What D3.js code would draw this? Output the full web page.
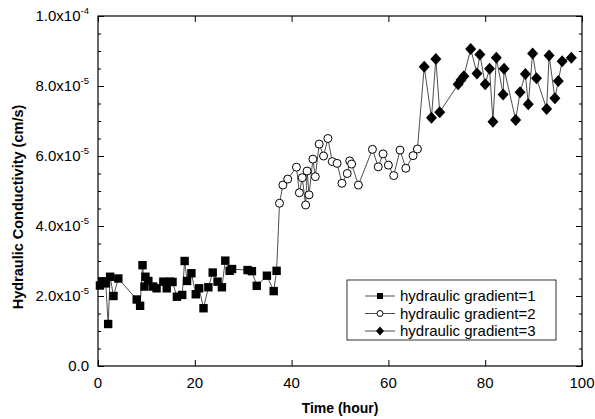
<!DOCTYPE html>
<html>
<head>
<meta charset="utf-8">
<script src="https://cdn.jsdelivr.net/npm/d3@7"></script>
<style>
  body { margin: 0; background: #fff; }
  text { font-family: "Liberation Sans", Arial, sans-serif; fill: #000; }
</style>
</head>
<body>
<svg id="chart" width="595" height="419"></svg>
<script>
// values of K are in units of 1e-5 cm/s
var t1 = [0.4, 0.9, 1.6, 2.1, 2.5, 3.2, 4.2, 8.0, 8.7, 9.2, 9.6, 9.8, 10.4, 11.4, 12.1, 13.5, 14.2, 14.9, 15.4, 16.3, 17.4, 17.9, 18.4, 19.3, 20.2, 20.9, 21.8, 22.8, 23.7, 24.7, 25.6, 26.3, 27.2, 27.7, 30.9, 31.8, 32.8, 34.9, 36.3, 36.9];
var k1 = [2.3, 2.42, 2.36, 1.2, 2.55, 2.0, 2.5, 1.9, 1.72, 2.88, 2.27, 2.55, 2.43, 2.27, 2.22, 2.41, 2.22, 2.41, 2.4, 1.98, 2.03, 3.0, 2.43, 2.65, 2.05, 2.22, 1.65, 2.25, 2.67, 2.41, 2.25, 3.01, 2.72, 2.77, 2.74, 2.71, 2.29, 2.58, 2.14, 2.72];

var t2 = [37.5, 38.2, 39.2, 41.0, 41.6, 42.2, 42.9, 43.2, 43.6, 44.4, 44.9, 45.7, 46.6, 47.5, 48.4, 49.4, 50.4, 51.5, 52.0, 52.4, 53.8, 56.7, 57.9, 58.9, 60.0, 61.1, 62.4, 63.6, 65.1, 66.0];
var k2 = [4.65, 5.17, 5.34, 5.68, 4.95, 5.38, 4.6, 5.57, 4.89, 5.91, 5.41, 6.34, 6.0, 6.5, 5.84, 5.79, 5.22, 5.5, 5.86, 5.77, 5.17, 6.19, 5.69, 6.06, 5.74, 5.44, 6.17, 5.65, 6.01, 6.2];

var t3 = [67.4, 68.9, 69.8, 70.6, 74.4, 75.0, 75.6, 77.0, 78.3, 78.9, 80.0, 80.9, 81.6, 82.3, 83.7, 83.9, 86.3, 87.2, 88.3, 88.9, 89.8, 90.6, 92.7, 93.2, 94.4, 95.1, 95.9, 97.8];
var k3 = [8.55, 7.09, 8.77, 7.25, 8.05, 8.17, 8.28, 9.06, 8.36, 8.9, 8.05, 8.49, 6.98, 8.81, 7.76, 8.49, 7.03, 7.82, 8.34, 7.48, 8.93, 8.22, 7.34, 8.87, 7.65, 8.14, 8.71, 8.81];

var seriesNames = ["hydraulic gradient=1", "hydraulic gradient=2", "hydraulic gradient=3"];
var xTicks = [0, 20, 40, 60, 80, 100];
var yTicks = [0, 2, 4, 6, 8, 10];
var yTickMain = ["0.0", "2.0x10", "4.0x10", "6.0x10", "8.0x10", "1.0x10"];
var yTickExp = ["", "-5", "-5", "-5", "-5", "-4"];

var svg = d3.select("#chart");
// note: "top" is reserved on window, so use plot* names
var plotL = 98, plotR = 582, plotT = 16, plotB = 366;

var x = d3.scaleLinear().domain([0, 100]).range([plotL, plotR]);
var y = d3.scaleLinear().domain([0, 10]).range([plotB, plotT]);

// minor ticks on y (inward)
var yMinor = d3.range(0, 10.01, 0.5).filter(function(v){ return yTicks.indexOf(v) < 0; });

var axes = svg.append("g");
axes.append("g").attr("transform", "translate(" + plotL + ",0)")
  .call(d3.axisRight(y).tickValues(yMinor).tickSize(3).tickFormat(""));
axes.append("g").attr("transform", "translate(" + plotR + ",0)")
  .call(d3.axisLeft(y).tickValues(yMinor).tickSize(3).tickFormat(""));
axes.append("g").attr("transform", "translate(" + plotL + ",0)")
  .call(d3.axisRight(y).tickValues(yTicks).tickSize(6).tickFormat(""));
axes.append("g").attr("transform", "translate(" + plotR + ",0)")
  .call(d3.axisLeft(y).tickValues(yTicks).tickSize(6).tickFormat(""));
axes.append("g").attr("transform", "translate(0," + plotB + ")")
  .call(d3.axisTop(x).tickValues(xTicks).tickSize(6).tickFormat(""));
axes.append("g").attr("transform", "translate(0," + plotT + ")")
  .call(d3.axisBottom(x).tickValues(xTicks).tickSize(6).tickFormat(""));
axes.selectAll(".domain").remove();
axes.selectAll("line").attr("stroke", "#000").attr("stroke-width", 1);

// frame
svg.append("rect")
  .attr("x", plotL).attr("y", plotT)
  .attr("width", plotR - plotL).attr("height", plotB - plotT)
  .attr("fill", "none").attr("stroke", "#000").attr("stroke-width", 1.2);

// tick labels
svg.selectAll(".xlab").data(xTicks).enter().append("text")
  .attr("x", function(d){ return x(d); })
  .attr("y", 388)
  .attr("text-anchor", "middle")
  .attr("font-size", 15)
  .text(function(d){ return d; });

var ylab = svg.selectAll(".ylab").data(yTicks).enter().append("text")
  .attr("x", 89)
  .attr("y", function(d){ return y(d) + 5; })
  .attr("text-anchor", "end")
  .attr("font-size", 15);
ylab.append("tspan").text(function(d, i){ return yTickMain[i]; });
ylab.append("tspan")
  .attr("dy", -7)
  .attr("font-size", 9.5)
  .text(function(d, i){ return yTickExp[i]; });

// axis titles
svg.append("text")
  .attr("transform", "translate(23,207) rotate(-90)")
  .attr("text-anchor", "middle")
  .attr("font-size", 14.5)
  .attr("font-weight", "bold")
  .text("Hydraulic Conductivity (cm/s)");

svg.append("text")
  .attr("x", 340).attr("y", 413)
  .attr("text-anchor", "middle")
  .attr("font-size", 14)
  .attr("font-weight", "bold")
  .text("Time (hour)");

// one connecting line through all readings, in time order
var line = d3.line().x(function(d){ return x(d[0]); }).y(function(d){ return y(d[1]); });
function pairs(ts, ks){ return ts.map(function(t, i){ return [t, ks[i]]; }); }
var p1 = pairs(t1, k1), p2 = pairs(t2, k2), p3 = pairs(t3, k3);

svg.append("path").datum(p1.concat(p2, p3))
  .attr("d", line)
  .attr("fill", "none")
  .attr("stroke", "#222")
  .attr("stroke-width", 0.8);

function drawMarkers(g, pos, shape){
  if(shape === "square"){
    g.selectAll(null).data(pos).enter().append("rect")
      .attr("x", function(d){ return d[0] - 4.2; })
      .attr("y", function(d){ return d[1] - 4.2; })
      .attr("width", 8.4).attr("height", 8.4)
      .attr("fill", "#000");
  } else if(shape === "circle"){
    g.selectAll(null).data(pos).enter().append("circle")
      .attr("cx", function(d){ return d[0]; })
      .attr("cy", function(d){ return d[1]; })
      .attr("r", 4)
      .attr("fill", "#fff").attr("stroke", "#000").attr("stroke-width", 1);
  } else {
    g.selectAll(null).data(pos).enter().append("path")
      .attr("d", function(d){
        return "M" + d[0] + "," + (d[1] - 6) + "L" + (d[0] + 5.5) + "," + d[1] +
               "L" + d[0] + "," + (d[1] + 6) + "L" + (d[0] - 5.5) + "," + d[1] + "Z";
      })
      .attr("fill", "#000");
  }
}
function px(ps){ return ps.map(function(p){ return [x(p[0]), y(p[1])]; }); }

drawMarkers(svg, px(p1), "square");
drawMarkers(svg, px(p2), "circle");
drawMarkers(svg, px(p3), "diamond");

// legend
var legend = svg.append("g");
legend.append("rect")
  .attr("x", 347).attr("y", 280)
  .attr("width", 209).attr("height", 60)
  .attr("fill", "#fff").attr("stroke", "#000").attr("stroke-width", 0.8);

var shapes = ["square", "circle", "diamond"];
seriesNames.forEach(function(name, i){
  var ly = 296 + i * 17.5;
  legend.append("line")
    .attr("x1", 365).attr("x2", 395)
    .attr("y1", ly).attr("y2", ly)
    .attr("stroke", "#222").attr("stroke-width", 0.8);
  var g = legend.append("g");
  if(shapes[i] === "square"){
    g.append("rect").attr("x", 377).attr("y", ly - 3).attr("width", 6).attr("height", 6).attr("fill", "#000");
  } else if(shapes[i] === "circle"){
    g.append("circle").attr("cx", 380).attr("cy", ly).attr("r", 3)
      .attr("fill", "#fff").attr("stroke", "#000").attr("stroke-width", 1);
  } else {
    g.append("path").attr("d", "M380," + (ly - 4.5) + "L384," + ly + "L380," + (ly + 4.5) + "L376," + ly + "Z")
      .attr("fill", "#000");
  }
  legend.append("text")
    .attr("x", 400).attr("y", ly + 5)
    .attr("font-size", 15)
    .text(name);
});
</script>
</body>
</html>
